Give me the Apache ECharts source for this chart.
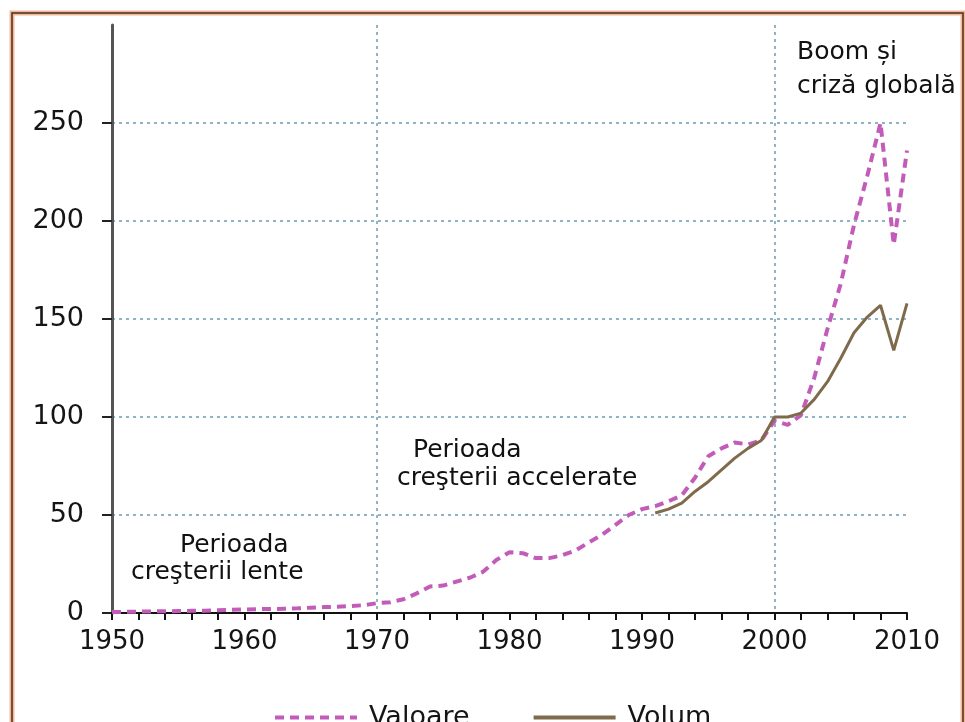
<!DOCTYPE html>
<html>
<head>
<meta charset="utf-8">
<script src="https://cdn.jsdelivr.net/npm/echarts@6/dist/echarts.min.js"></script>
<style>
  html, body { margin: 0; padding: 0; background: #fff; }
  #chart { width: 965px; height: 722px; }
</style>
</head>
<body>
<div id="chart"></div>
<script>
// years 1950..2010
const years = [];
for (let y = 1950; y <= 2010; y++) years.push(y);

const valoare = [
  0.5, 0.6, 0.7, 0.8, 0.9, 1.0, 1.1, 1.2, 1.4, 1.6,
  1.8, 2.0, 2.0, 2.2, 2.4, 2.7, 3.0, 3.2, 3.5, 4.0,
  5.0, 5.5, 7, 10, 13.5, 14, 16, 18, 21, 27,
  31, 30.5, 28, 28, 29.5, 32, 36, 40, 45, 50,
  53, 54.5, 57, 60, 69, 80, 84, 87, 86, 88,
  98, 96, 101, 120, 145, 168, 198, 223, 250, 188,
  236
];

// volum starts in 1991
const volumYears = [1991, 1992, 1993, 1994, 1995, 1996, 1997, 1998, 1999, 2000,
  2001, 2002, 2003, 2004, 2005, 2006, 2007, 2008, 2009, 2010];
const volum = [51, 53, 56, 62, 67, 73, 79, 84, 88, 100,
  100, 102, 109, 118, 130, 143, 151, 157, 134, 158];

const yTicks = [0, 50, 100, 150, 200, 250, 300];
const xTicks = [1950, 1960, 1970, 1980, 1990, 2000, 2010];

const FONT = 'DejaVu Sans';
const GRID = '#8fb4c6';
const NONE = 'rgba(0,0,0,0)';
const VAL_COLOR = '#c35cb9';
const VOL_COLOR = '#7f6a4b';

const chart = echarts.init(document.getElementById('chart'));

const option = {
  animation: false,
  backgroundColor: '#fff',
  grid: { left: 112, right: 58, top: 25, bottom: 109 },
  xAxis: {
    type: 'value',
    min: 1950,
    max: 2010,
    interval: 10,
    axisLine: { show: true, lineStyle: { color: '#111', width: 2 } },
    axisTick: { show: true, length: 7, lineStyle: { color: '#111', width: 2 } },
    minorTick: { show: true, splitNumber: 5, length: 7, lineStyle: { color: '#111', width: 2 } },
    axisLabel: {
      margin: 16,
      color: '#151515',
      fontFamily: FONT,
      fontSize: 26,
      formatter: v => String(v)
    },
    splitLine: {
      show: true,
      lineStyle: {
        type: [3, 4],
        width: 2,
        color: xTicks.map(v => (v === 1970 || v === 2000) ? GRID : NONE)
      }
    }
  },
  yAxis: {
    type: 'value',
    min: 0,
    max: 300,
    interval: 50,
    axisLine: { show: true, lineStyle: { color: '#555', width: 3 } },
    axisTick: { show: true, length: 10, lineStyle: { color: '#222', width: 2 } },
    axisLabel: {
      margin: 28,
      color: '#151515',
      fontFamily: FONT,
      fontSize: 27,
      showMaxLabel: false,
      formatter: v => v === 300 ? '' : String(v)
    },
    splitLine: {
      show: true,
      lineStyle: {
        type: [3, 4],
        width: 2,
        color: yTicks.map(v => (v === 0 || v === 300) ? NONE : GRID)
      }
    }
  },
  legend: {
    left: 268,
    top: 699,
    itemWidth: 82,
    itemHeight: 14,
    itemGap: 62,
    textStyle: { fontFamily: FONT, fontSize: 27, color: '#151515', padding: [0, 0, 0, 7] },
    data: [
      { name: 'Valoare', itemStyle: { opacity: 0 },
        lineStyle: { color: VAL_COLOR, width: 4, type: [9, 6] } },
      { name: 'Volum', itemStyle: { opacity: 0 },
        lineStyle: { color: VOL_COLOR, width: 4, type: 'solid' } }
    ]
  },
  series: [
    {
      name: 'Valoare',
      type: 'line',
      symbol: 'none',
      data: years.map((y, i) => [y, valoare[i]]),
      lineStyle: { color: VAL_COLOR, width: 4, type: [9, 6] },
      itemStyle: { color: VAL_COLOR },
      z: 3
    },
    {
      name: 'Volum',
      type: 'line',
      symbol: 'none',
      data: volumYears.map((y, i) => [y, volum[i]]),
      lineStyle: { color: VOL_COLOR, width: 3 },
      itemStyle: { color: VOL_COLOR },
      z: 4
    }
  ],
  graphic: [
    // frame
    { type: 'rect', shape: { x: 12, y: 13, width: 951, height: 800 },
      style: { fill: null, stroke: '#f2b896', lineWidth: 5 }, z: 0 },
    { type: 'rect', shape: { x: 12, y: 13, width: 951, height: 800 },
      style: { fill: null, stroke: '#4a2e22', lineWidth: 1.5 }, z: 1 },
    // annotations
    { type: 'text', style: { text: 'Boom și', x: 797, y: 52, verticalAlign: 'middle',
      font: '25px "DejaVu Sans"', fill: '#111' } },
    { type: 'text', style: { text: 'criză globală', x: 797, y: 86, verticalAlign: 'middle',
      font: '25px "DejaVu Sans"', fill: '#111' } },
    { type: 'text', style: { text: 'Perioada', x: 413, y: 450, verticalAlign: 'middle',
      font: '25px "DejaVu Sans"', fill: '#111' } },
    { type: 'text', style: { text: 'creşterii accelerate', x: 397, y: 478, verticalAlign: 'middle',
      font: '25px "DejaVu Sans"', fill: '#111' } },
    { type: 'text', style: { text: 'Perioada', x: 180, y: 545, verticalAlign: 'middle',
      font: '25px "DejaVu Sans"', fill: '#111' } },
    { type: 'text', style: { text: 'creşterii lente', x: 131, y: 572, verticalAlign: 'middle',
      font: '25px "DejaVu Sans"', fill: '#111' } }
  ]
};

chart.setOption(option);
</script>
</body>
</html>
